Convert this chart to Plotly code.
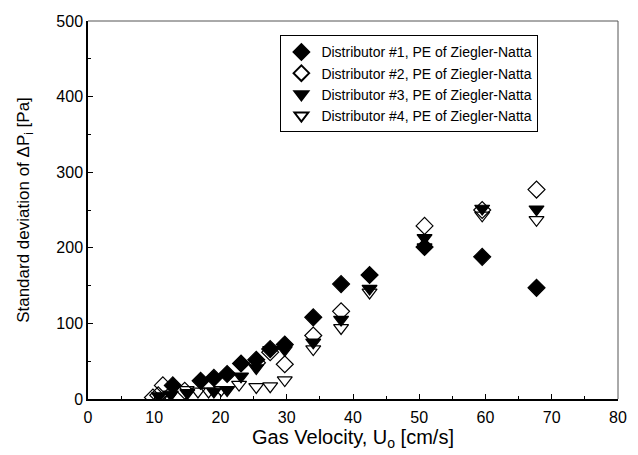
import plotly.graph_objects as go

# Distributor #1 (filled diamond)
d1_x = [12.8, 17.0, 19.0, 21.0, 23.1, 25.4, 27.5, 29.7, 34.0, 38.2, 42.5, 50.8, 59.5, 67.7]
d1_y = [18, 24, 28, 33, 47, 52, 66, 72, 108, 152, 164, 201, 188, 147]
# Distributor #2 (open diamond)
d2_x = [9.8, 10.6, 11.3, 14.6, 25.5, 27.5, 29.7, 34.0, 38.2, 50.8, 59.5, 67.7]
d2_y = [2, 5, 18, 11, 48, 62, 46, 84, 116, 229, 250, 277]
# Distributor #3 (filled triangle down)
d3_x = [10.7, 12.5, 15.0, 19.0, 21.0, 23.1, 25.4, 27.5, 29.7, 34.0, 38.2, 42.5, 50.8, 59.5, 67.7]
d3_y = [4, 6, 8, 10, 12, 30, 41, 65, 65, 75, 105, 146, 213, 252, 251]
# Distributor #4 (open triangle down)
d4_x = [11.0, 12.2, 14.9, 16.6, 18.2, 20.1, 22.8, 25.4, 27.5, 29.7, 34.0, 38.2, 42.5, 50.8, 59.5, 67.7]
d4_y = [2, 3, 12, 10, 10, 12, 19, 16, 17, 25, 66, 94, 141, 201, 243, 237]

names = ["Distributor #1, PE of Ziegler-Natta", "Distributor #2, PE of Ziegler-Natta",
         "Distributor #3, PE of Ziegler-Natta", "Distributor #4, PE of Ziegler-Natta"]

fig = go.Figure()
series = [(d1_x, d1_y, "diamond"), (d2_x, d2_y, "diamond-open"),
          (d3_x, d3_y, "triangle-down"), (d4_x, d4_y, "triangle-down-open")]
for (xs, ys, sym), nm in zip(series, names):
    fig.add_trace(go.Scatter(
        x=xs, y=ys, mode="markers", name=nm,
        marker=dict(symbol=sym, size=13, color="black", line=dict(color="black", width=1.2)),
    ))

font = "Liberation Sans, Arial, sans-serif"
fig.update_layout(
    width=638, height=455,
    margin=dict(l=88, r=11, t=21, b=56),
    paper_bgcolor="white", plot_bgcolor="white",
    font=dict(family=font, size=16, color="black"),
    showlegend=True,
    legend=dict(x=0.363, y=0.962, xanchor="left", yanchor="top",
                bordercolor="black", borderwidth=1, bgcolor="white",
                font=dict(size=14), itemsizing="constant", tracegroupgap=0),
    xaxis=dict(range=[0, 80], tickvals=[0, 10, 20, 30, 40, 50, 60, 70, 80],
               ticks="inside", ticklen=5, tickcolor="black", showgrid=False, zeroline=False,
               showline=True, linecolor="black", linewidth=1.5, ticklabelstandoff=3,
               minor=dict(ticks="inside", ticklen=3, dtick=5, tickcolor="black"),
               title=dict(text="Gas Velocity, U<sub>o</sub> [cm/s]", font=dict(size=20), standoff=4)),
    yaxis=dict(range=[0, 500], tickvals=[0, 100, 200, 300, 400, 500],
               ticks="inside", ticklen=5, tickcolor="black", showgrid=False, zeroline=False,
               showline=True, linecolor="black", linewidth=1.5,
               minor=dict(ticks="inside", ticklen=3, dtick=50, tickcolor="black"),
               title=dict(text="Standard deviation of \u0394P<sub>i</sub> [Pa]", font=dict(size=17), standoff=22)),
    shapes=[
        dict(type="line", xref="paper", yref="paper", x0=0, x1=1, y0=1, y1=1,
             line=dict(color="#555555", width=1)),
        dict(type="line", xref="paper", yref="paper", x0=1, x1=1, y0=0, y1=1,
             line=dict(color="#555555", width=1)),
    ],
)

fig.write_html("out.html")
